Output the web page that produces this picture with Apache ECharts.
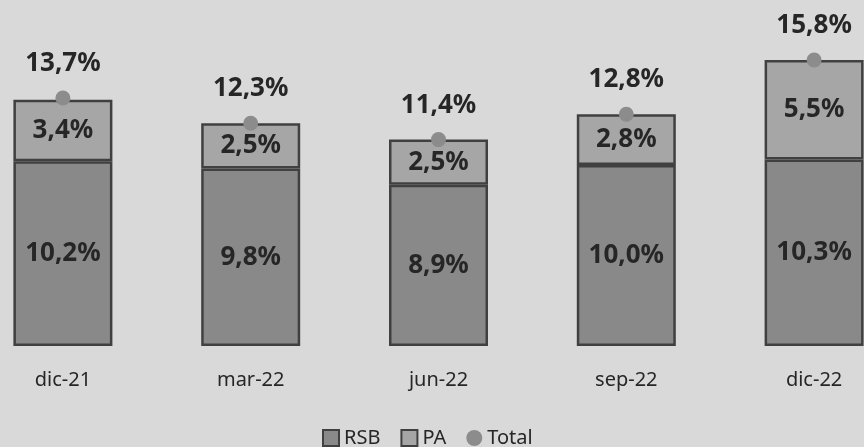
<!DOCTYPE html>
<html>
<head>
<meta charset="utf-8">
<script src="https://cdn.jsdelivr.net/npm/echarts@6/dist/echarts.min.js"></script>
<style>
	html, body { margin: 0; padding: 0; background: #d9d9d9; overflow: hidden; }
	#wrap { position: relative; width: 864px; height: 447px; overflow: hidden; }
	#ech { position: absolute; left: -31px; top: 0; width: 939px; height: 447px; }
</style>
</head>
<body>
<div id="wrap"><div id="ech"></div></div>
<script>
var categorias = ['dic-21', 'mar-22', 'jun-22', 'sep-22', 'dic-22'];
var rsb = [10.2, 9.8, 8.9, 10.0, 10.3];
var pa = [3.4, 2.5, 2.5, 2.8, 5.5];
var total = [13.7, 12.3, 11.4, 12.8, 15.8];

function pct(p) {
	return p.value.toFixed(1).replace('.', ',') + '%';
}

function showEchart() {
	// el canvas es más ancho que la ventana: los extremos quedan cortados como en el original
	var myChart = echarts.init(document.getElementById('ech'));
	var lbl = {
		show : true,
		position : 'inside',
		formatter : pct,
		fontFamily : 'Noto Sans',
		fontWeight : 'bold',
		fontSize : 26,
		color : '#262626'
	};
	var option = {
		backgroundColor : '#d9d9d9',
		animation : false,
		textStyle : { fontFamily : 'Noto Sans' },
		grid : { left : 0, right : 0, top : 2, bottom : 101 },
		legend : {
			top : 423,
			left : 348,
			itemWidth : 16,
			itemHeight : 16,
			itemGap : 20,
			textStyle : { fontSize : 20, color : '#262626', fontFamily : 'Noto Sans' },
			data : [
				{ name : 'RSB', icon : 'rect' },
				{ name : 'PA', icon : 'rect' },
				{ name : 'Total', icon : 'circle' }
			]
		},
		xAxis : {
			type : 'category',
			data : categorias,
			axisLine : { show : false },
			axisTick : { show : false },
			axisLabel : { fontSize : 20, color : '#262626', margin : 24, fontFamily : 'Noto Sans' }
		},
		yAxis : {
			type : 'value',
			min : 0,
			max : 19,
			show : false,
			splitLine : { show : false }
		},
		series : [{
			name : 'RSB',
			type : 'bar',
			stack : 'a',
			barWidth : 99,
			data : rsb,
			itemStyle : { color : '#898989', borderColor : '#404040', borderWidth : 2.5 },
			label : lbl
		}, {
			name : 'PA',
			type : 'bar',
			stack : 'a',
			barWidth : 99,
			data : pa,
			itemStyle : { color : '#a6a6a6', borderColor : '#404040', borderWidth : 2.5 },
			label : lbl
		}, {
			name : 'Total',
			type : 'scatter',
			data : total,
			symbolSize : 15,
			z : 5,
			itemStyle : { color : '#8c8c8c', opacity : 1 },
			label : {
				show : true,
				position : 'top',
				distance : 14,
				formatter : pct,
				fontFamily : 'Noto Sans',
				fontWeight : 'bold',
				fontSize : 26,
				color : '#262626'
			}
		}]
	};
	myChart.setOption(option);
}
showEchart();
</script>
</body>
</html>
